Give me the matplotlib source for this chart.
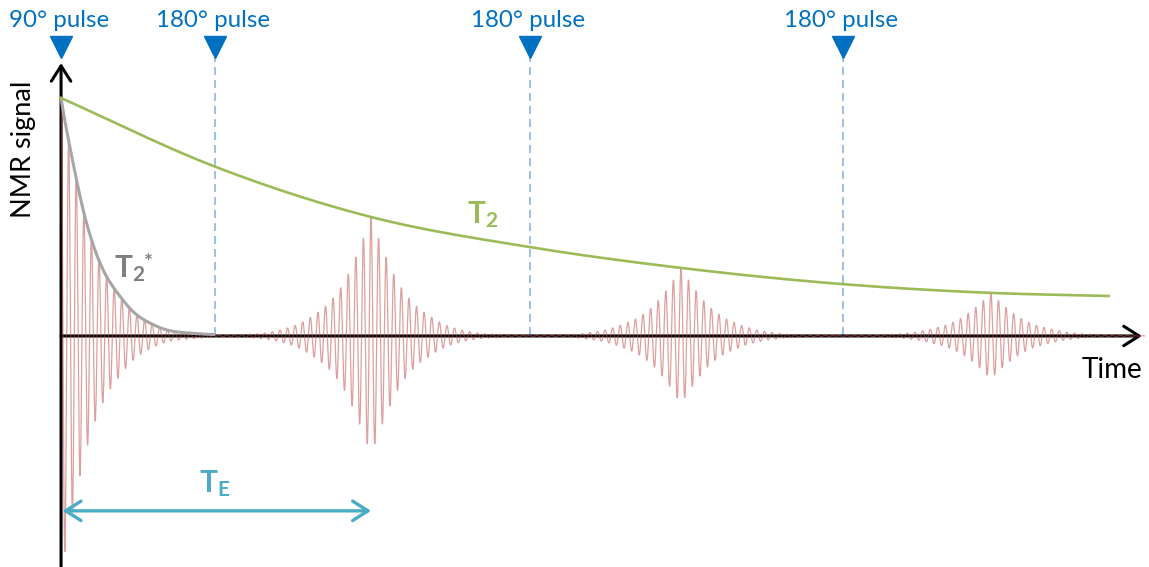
import numpy as np
import matplotlib
matplotlib.use("Agg")
import matplotlib.pyplot as plt

# ---- pulse sequence timing (ms) ----
pulse_labels = ["90° pulse", "180° pulse", "180° pulse", "180° pulse"]
pulse_times = [0.0, 4.97, 15.13, 25.23]
echo_times = [10.0, 20.0, 30.0]

# ---- T2 envelope (signal, % of initial magnetisation) ----
t2_times = [0.0, 5.0, 10.0, 15.1, 20.0, 25.2, 30.0, 33.8]
t2_amps = [100.0, 71.0, 50.0, 37.4, 28.6, 21.8, 18.1, 16.8]

# ---- T2* free induction decay envelope ----
t2s_times = [0.0, 0.42, 0.84, 1.39, 1.94, 2.45, 3.00, 3.55, 4.06, 4.94]
t2s_amps = [100.0, 70.6, 46.6, 26.9, 16.0, 8.8, 4.6, 2.1, 1.3, 0.6]

# ---- echo maxima ----
echo_amps = [50.0, 28.6, 18.1]

carrier_period = 0.245  # ms

BLUE = "#0070C0"
DASH_BLUE = "#8DB4E2"
GREEN = "#9BBB59"
GREY = "#A6A6A6"
GREY_TXT = "#7F7F7F"
TEAL = "#4BACC6"
RED = "#C0504D"

plt.rcParams["font.family"] = ["Lato", "DejaVu Sans"]
plt.rcParams["mathtext.fontset"] = "custom"
plt.rcParams["mathtext.rm"] = "Lato:bold"
plt.rcParams["mathtext.bf"] = "Lato:bold"
plt.rcParams["mathtext.it"] = "Lato:bold"


def smooth(xk, yk, x):
    """Cubic Hermite interpolation through the given points."""
    xk = np.asarray(xk, float)
    yk = np.asarray(yk, float)
    x = np.asarray(x, float)
    m = np.gradient(yk, xk)
    idx = np.clip(np.searchsorted(xk, x) - 1, 0, len(xk) - 2)
    h = xk[idx + 1] - xk[idx]
    s = (x - xk[idx]) / h
    h00 = 2 * s**3 - 3 * s**2 + 1
    h10 = s**3 - 2 * s**2 + s
    h01 = -2 * s**3 + 3 * s**2
    h11 = s**3 - s**2
    return h00 * yk[idx] + h10 * h * m[idx] + h01 * yk[idx + 1] + h11 * h * m[idx + 1]


log_shape = np.log(np.array(t2s_amps) / t2s_amps[0])


def decay(dt):
    dt = np.abs(np.asarray(dt, float))
    out = np.zeros_like(dt)
    inside = dt <= t2s_times[-1]
    out[inside] = np.exp(smooth(t2s_times, log_shape, dt[inside]))
    return out


# ---- signal: FID followed by spin echoes ----
t = np.linspace(0.0, 34.95, 40000)
signal = t2s_amps[0] * decay(t) * np.cos(2 * np.pi * t / carrier_period)
for te, a in zip(echo_times, echo_amps):
    signal += a * decay(t - te) * np.cos(2 * np.pi * (t - te) / carrier_period)

fig = plt.figure(figsize=(11.49, 5.67), dpi=100)
ax = fig.add_axes([0, 0, 1, 1])
ax.set_xlim(-1.97, 35.1)
ax.set_ylim(-97.1, 141.2)
ax.axis("off")

# axes with arrow heads
arrow_kw = dict(arrowstyle="->,head_length=0.55,head_width=0.35", lw=2.2,
                color="black", mutation_scale=20, shrinkA=0, shrinkB=0)
ax.annotate("", xy=(0, 114.7), xytext=(0, -97.1), arrowprops=arrow_kw, zorder=1.5)
ax.annotate("", xy=(34.87, 0), xytext=(0, 0), arrowprops=arrow_kw, zorder=1.5)

# signal trace
ax.plot(t, signal, color=RED, lw=0.9, alpha=0.55, zorder=2)

# T2* curve
ts = np.linspace(0, t2s_times[-1], 300)
ax.plot(ts, t2s_amps[0] * np.exp(smooth(t2s_times, log_shape, ts)),
        color=GREY, lw=2.2, zorder=3, solid_capstyle="round")

# T2 curve
tg = np.linspace(t2_times[0], t2_times[-1], 600)
ax.plot(tg, smooth(t2_times, t2_amps, tg), color=GREEN, lw=1.9, zorder=3)

# pulses
ax.vlines(pulse_times[1:], 0.4, 117.2, colors=DASH_BLUE, lw=1.2,
          linestyles=(0, (4.8, 3.0)), zorder=1)
ax.plot(pulse_times, [121.4] * len(pulse_times), "v", ms=16, color=BLUE,
        clip_on=False, zorder=4)
for pt, lab in zip(pulse_times, pulse_labels):
    ax.text(pt - 0.08, 132.6, lab, color=BLUE, fontsize=17.4, ha="center", va="center")

# labels
ax.text(-1.22, 78.6, "NMR signal", rotation=90, fontsize=19.5, ha="center", va="center")
ax.text(33.9, -14.5, "Time", fontsize=20, ha="center", va="center")
ax.text(13.6, 50.8, r"$\mathrm{T}_{\mathrm{2}}$", color=GREEN, fontsize=21.5,
        ha="center", va="center")
ax.text(2.21, 28.4, r"$\mathrm{T}_{\mathrm{2}}$", color=GREY_TXT,
        fontsize=21.5, ha="center", va="center")
ax.text(2.68, 28.2, "*", color=GREY_TXT, fontsize=15, fontweight="bold",
        ha="left", va="baseline")
ax.text(4.95, -62.0, r"$\mathrm{T}_{\mathrm{E}}$", color=TEAL, fontsize=21.5,
        ha="center", va="center")

# echo time span
ax.annotate("", xy=(echo_times[0], -73.5), xytext=(0.05, -73.5),
            arrowprops=dict(arrowstyle="<->,head_length=0.55,head_width=0.35",
                            lw=2.4, color=TEAL, mutation_scale=20,
                            shrinkA=0, shrinkB=0), zorder=3)

fig.savefig("out.png", dpi=100)
